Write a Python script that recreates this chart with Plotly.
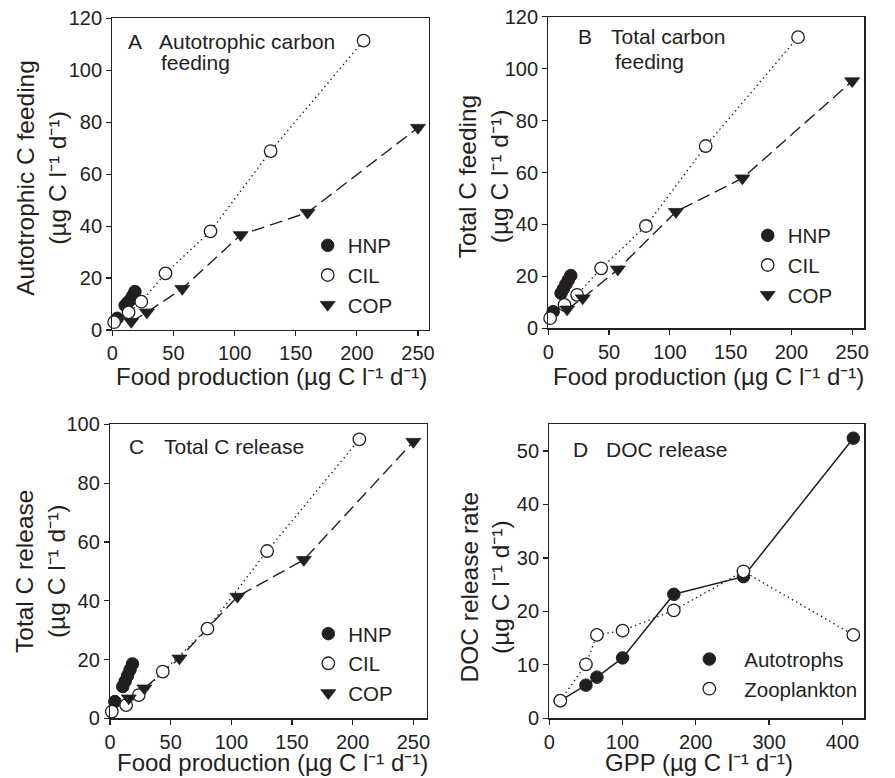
import plotly.graph_objects as go

FONT = "Liberation Sans, Arial, Helvetica, sans-serif"
INK = "#231f20"

# ---------------- data ----------------
# Panels A-C : x = food production (ug C l-1 d-1)
hnp_food = [4, 10.5, 12.5, 14.5, 16.5, 18.5]
cil_food = [1.5, 13.3, 23.7, 43.5, 80.3, 129.5, 205.5]
cop_food = [15.5, 28.3, 57.2, 105, 159.7, 250]

# A: autotrophic C feeding
hnp_auto = [4.5, 9.5, 10.5, 11.5, 13, 14.8]
cil_auto = [3.0, 6.8, 10.9, 21.8, 38.0, 68.9, 111.4]
cop_auto = [3.2, 6.8, 15.9, 36.6, 45.2, 77.9]

# B: total C feeding
hnp_total = [6.4, 13.5, 15.2, 17.0, 18.6, 20.3]
cil_total = [3.9, 9.0, 12.9, 23.1, 39.4, 70.2, 112.1]
cop_total = [7.3, 11.6, 22.7, 44.9, 57.8, 95.2]

# C: total C release
hnp_release = [5.7, 10.8, 12.6, 14.5, 16.5, 18.5]
cil_release = [2.3, 4.5, 7.9, 15.9, 30.5, 56.9, 94.9]
cop_release = [6.8, 10.2, 20.4, 41.4, 53.9, 94.1]

# D: DOC release vs GPP
gpp = [15, 50, 65, 100, 170, 265, 415]
doc_autotrophs = [3.3, 6.2, 7.7, 11.3, 23.2, 26.5, 52.4]
doc_zooplankton = [3.3, 10.1, 15.6, 16.4, 20.2, 27.5, 15.6]

UNIT = "(µg C l⁻¹ d⁻¹)"

fig = go.Figure()

DOT = "1.4px,3.4px"
DASH = "13px,6px"
MS = 12.5


def food_panel(xa, ya, leg, hnp_y, cil_y, cop_y):
    fig.add_trace(go.Scatter(x=cil_food, y=cil_y, mode="lines", xaxis=xa, yaxis=ya,
                             line=dict(color=INK, width=1.4, dash=DOT), showlegend=False,
                             hoverinfo="skip"))
    fig.add_trace(go.Scatter(x=cop_food, y=cop_y, mode="lines", xaxis=xa, yaxis=ya,
                             line=dict(color=INK, width=1.4, dash=DASH), showlegend=False,
                             hoverinfo="skip"))
    fig.add_trace(go.Scatter(x=hnp_food, y=hnp_y, mode="markers", name="HNP", xaxis=xa, yaxis=ya,
                             legend=leg, cliponaxis=False,
                             marker=dict(symbol="circle", size=MS, color=INK,
                                         line=dict(color=INK, width=1))))
    fig.add_trace(go.Scatter(x=cil_food, y=cil_y, mode="markers", name="CIL", xaxis=xa, yaxis=ya,
                             legend=leg, cliponaxis=False,
                             marker=dict(symbol="circle", size=MS, color="white",
                                         line=dict(color=INK, width=1.3))))
    fig.add_trace(go.Scatter(x=cop_food, y=cop_y, mode="markers", name="COP", xaxis=xa, yaxis=ya,
                             legend=leg, cliponaxis=False,
                             marker=dict(symbol="triangle-down", size=13, color=INK,
                                         line=dict(color=INK, width=0.8))))


food_panel("x", "y", "legend", hnp_auto, cil_auto, cop_auto)
food_panel("x2", "y2", "legend2", hnp_total, cil_total, cop_total)
food_panel("x3", "y3", "legend3", hnp_release, cil_release, cop_release)

fig.add_trace(go.Scatter(x=gpp, y=doc_autotrophs, mode="lines", xaxis="x4", yaxis="y4",
                         line=dict(color=INK, width=1.5), showlegend=False, hoverinfo="skip"))
fig.add_trace(go.Scatter(x=gpp, y=doc_zooplankton, mode="lines", xaxis="x4", yaxis="y4",
                         line=dict(color=INK, width=1.4, dash=DOT), showlegend=False,
                         hoverinfo="skip"))
fig.add_trace(go.Scatter(x=gpp, y=doc_autotrophs, mode="markers", name="Autotrophs",
                         xaxis="x4", yaxis="y4", legend="legend4", cliponaxis=False,
                         marker=dict(symbol="circle", size=MS, color=INK,
                                     line=dict(color=INK, width=1))))
fig.add_trace(go.Scatter(x=gpp, y=doc_zooplankton, mode="markers", name="Zooplankton",
                         xaxis="x4", yaxis="y4", legend="legend4", cliponaxis=False,
                         marker=dict(symbol="circle", size=MS, color="white",
                                     line=dict(color=INK, width=1.3))))


def axis(domain, rng, dtick, anchor):
    return dict(domain=domain, range=rng, dtick=dtick, tick0=0, anchor=anchor,
                showline=True, linecolor=INK, linewidth=1.2, mirror=True,
                ticks="outside", ticklen=5, tickwidth=1.2, tickcolor=INK,
                showgrid=False, zeroline=False, fixedrange=True, automargin=False,
                ticklabeloverflow="allow",
                tickfont=dict(size=20, color=INK, family=FONT))


W, H = 895, 778
OFF = 0  # body margin is removed below, so the figure sits at the window origin


def px(v):
    return (v - OFF) / W


def py(v):
    return 1 - (v - OFF) / H


legend_common = dict(font=dict(size=20.5, color=INK, family=FONT), bgcolor="rgba(0,0,0,0)",
                     borderwidth=0, xanchor="left", yanchor="middle", traceorder="normal")

fig.update_layout(
    template="none",
    width=W, height=H,
    margin=dict(l=0, r=0, t=0, b=0, autoexpand=False),
    paper_bgcolor="white", plot_bgcolor="white",
    font=dict(family=FONT, color=INK),
    hovermode=False,
    xaxis=axis([px(112.3), px(429)], [0, 259], 50, "y"),
    yaxis=axis([py(330), py(18.3)], [0, 120], 20, "x"),
    xaxis2=axis([px(548.3), px(864.3)], [0, 260], 50, "y2"),
    yaxis2=axis([py(328.3), py(16.7)], [0, 120], 20, "x2"),
    xaxis3=axis([px(110), px(426.7)], [0, 261], 50, "y3"),
    yaxis3=axis([py(718.3), py(424.3)], [0, 100], 20, "x3"),
    xaxis4=axis([px(549.3), px(864.3)], [0, 430], 100, "y4"),
    yaxis4=axis([py(718.3), py(424.3)], [0, 55], 10, "x4"),
    legend=dict(x=px(307.7), y=py(275), **legend_common),
    legend2=dict(x=px(747.7), y=py(265), **legend_common),
    legend3=dict(x=px(308.3), y=py(663.3), **legend_common),
    legend4=dict(x=px(674.3), y=py(674.2), itemwidth=60, **legend_common),
)

ann = []


def text(t, x, y, size=21, xanchor="left", angle=0):
    ann.append(dict(text=t, x=px(x), y=py(y), xref="paper", yref="paper", showarrow=False,
                    xanchor=xanchor, yanchor="middle", textangle=angle, align="center",
                    font=dict(size=size, color=INK, family=FONT)))


# panel labels
text("A", 125.5, 41)
text("Autotrophic carbon", 156.5, 41)
text("feeding", 159, 62)
text("B", 575.5, 36)
text("Total carbon", 609, 36)
text("feeding", 612.5, 61)
text("C", 127, 446)
text("Total C release", 161.5, 446)
text("D", 571, 449.4)
text("DOC release", 603.5, 449.4)

# axis titles
text("Food production " + UNIT, 271.3, 376, size=24, xanchor="center")
text("Food production " + UNIT, 708.3, 376, size=24, xanchor="center")
text("Food production " + UNIT, 272, 762.5, size=24, xanchor="center")
text("GPP " + UNIT, 699, 762.5, size=24, xanchor="center")
text("Autotrophic C feeding<br>" + UNIT, 40.8, 178, size=24.5, xanchor="center", angle=-90)
text("Total C feeding<br>" + UNIT, 484.2, 177, size=24.5, xanchor="center", angle=-90)
text("Total C release<br>" + UNIT, 40, 572, size=24.5, xanchor="center", angle=-90)
text("DOC release rate<br>" + UNIT, 485, 587.5, size=24.5, xanchor="center", angle=-90)

fig.update_layout(annotations=ann)

fig.write_html("out.html", config={"displayModeBar": False, "staticPlot": True},
               post_script="document.body.style.margin='0px';")
